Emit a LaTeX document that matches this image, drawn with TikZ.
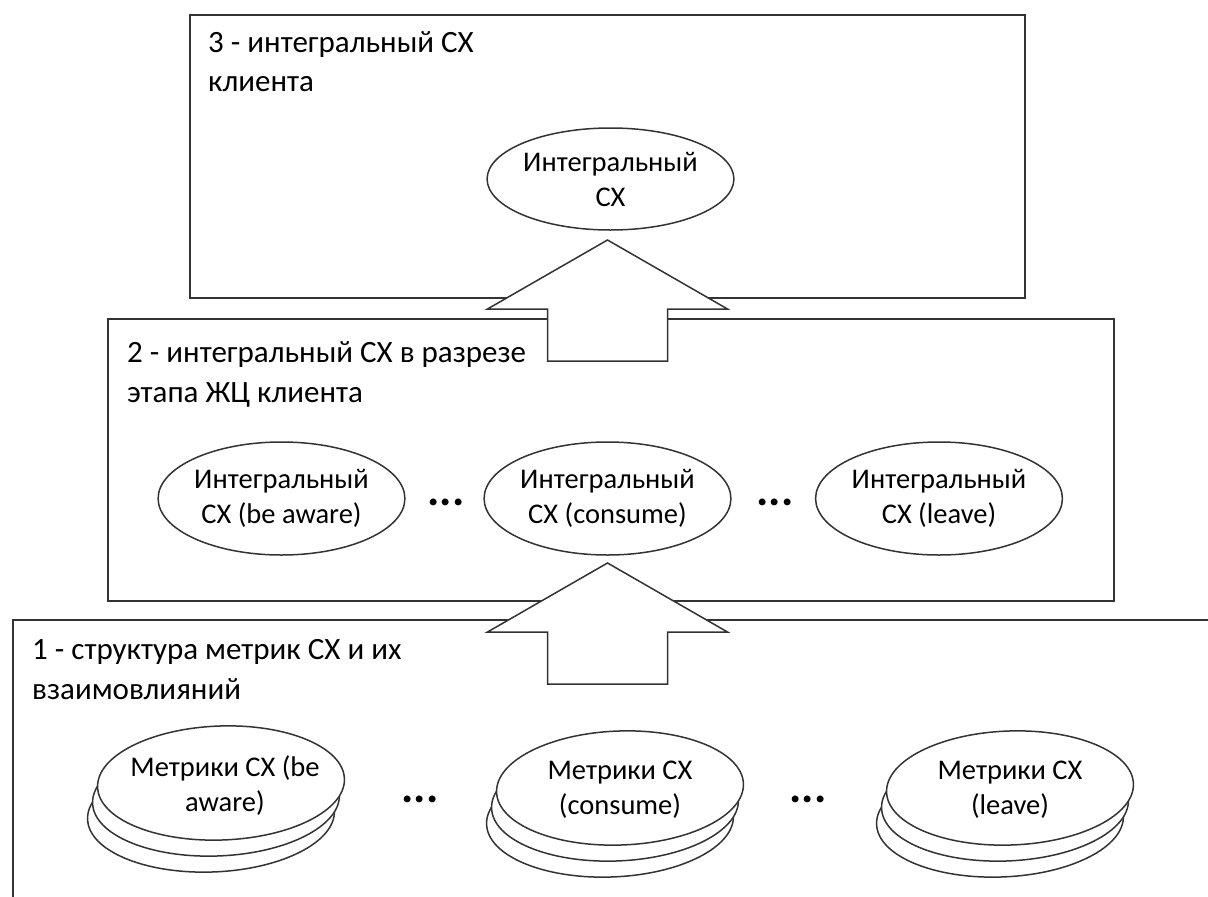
\documentclass[tikz,border=0pt]{standalone}
\usepackage{fontspec}
\setmainfont{Carlito}
\usetikzlibrary{shapes.geometric}

\begin{document}
\begin{tikzpicture}[x=1pt,y=-1pt,
  line/.style={draw=black!80, line width=1.5pt},
  panel/.style={line, fill=white, anchor=north west, inner sep=0pt},
  oval/.style={ellipse, line, fill=white, inner sep=0pt, align=center,
    font=\fontsize{28.5}{35}\selectfont},
  disc/.style={ellipse, line, fill=white, inner sep=0pt, rotate=2,
    minimum width=247pt, minimum height=114pt},
  disctext/.style={align=center, inner sep=0pt, font=\fontsize{28.5}{35}\selectfont},
  caption/.style={anchor=base west, align=left, inner sep=0pt,
    font=\fontsize{31}{39.5}\selectfont},
  dots/.style={anchor=base, inner sep=0pt, font=\fontsize{46}{46}\selectfont\bfseries},
  blockarrow/.style={line, fill=white, line join=miter},
]
\useasboundingbox (0,0) rectangle (1208,897);
\clip (0,0) rectangle (1208,897);

% level frames
\node[panel, minimum width=1230pt, minimum height=320pt] (lvl1) at (12,619) {};
\node[panel, minimum width=1006pt, minimum height=282pt] (lvl2) at (107,318) {};
\node[panel, minimum width=835pt, minimum height=283pt] (lvl3) at (189,14) {};

% level captions (anchored at the baseline of their last line)
\node[caption] (cap3) at (208,91.5) {3 - интегральный CX\\клиента};
\node[caption] (cap2) at (127,402) {2 - интегральный CX в разрезе\\этапа ЖЦ клиента};
\node[caption] (cap1) at (32,699) {1 - структура метрик CX и их\\взаимовлияний};

% level 3
\node[oval, minimum width=245pt, minimum height=102pt] (top) at (610.5,179) {Интегральный\\CX};

% level 2
\node[oval, minimum width=243pt, minimum height=113pt] (aware) at (281.5,498.5) {Интегральный\\CX (be aware)};
\node[oval, minimum width=243pt, minimum height=113pt] (consume) at (607.5,498.5) {Интегральный\\CX (consume)};
\node[oval, minimum width=243pt, minimum height=113pt] (leave) at (939,498.5) {Интегральный\\CX (leave)};
\node[dots] (d2a) at (446,505) {...};
\node[dots] (d2b) at (775,505) {...};

% level 1: stacks of metric sets
\node[disc] (aw3) at (211,815) {};
\node[disc] (aw2) at (216,799) {};
\node[disc] (aw1) at (221,783) {};
\node[disctext] (awt) at (225,786) {Метрики CX (be\\aware)};

\node[disc] (co3) at (610,820) {};
\node[disc] (co2) at (615,804) {};
\node[disc] (co1) at (620,788) {};
\node[disctext] (cot) at (620,790) {Метрики CX\\(consume)};

\node[disc] (le3) at (1000,820) {};
\node[disc] (le2) at (1005,804) {};
\node[disc] (le1) at (1010,788) {};
\node[disctext] (let) at (1010,790) {Метрики CX\\(leave)};

\node[dots] (d1a) at (420,802) {...};
\node[dots] (d1b) at (808,802) {...};

% block arrows between levels
\coordinate (tipB) at (607.5,563);
\coordinate (tipA) at (607.5,240);
\draw[blockarrow] (tipB) -- ++(120,69) -- ++(-60,0) -- ++(0,52) -- ++(-120,0)
  -- ++(0,-52) -- ++(-60,0) -- cycle;
\draw[blockarrow] (tipA) -- ++(120,69) -- ++(-60,0) -- ++(0,52) -- ++(-120,0)
  -- ++(0,-52) -- ++(-60,0) -- cycle;
\end{tikzpicture}
\end{document}
